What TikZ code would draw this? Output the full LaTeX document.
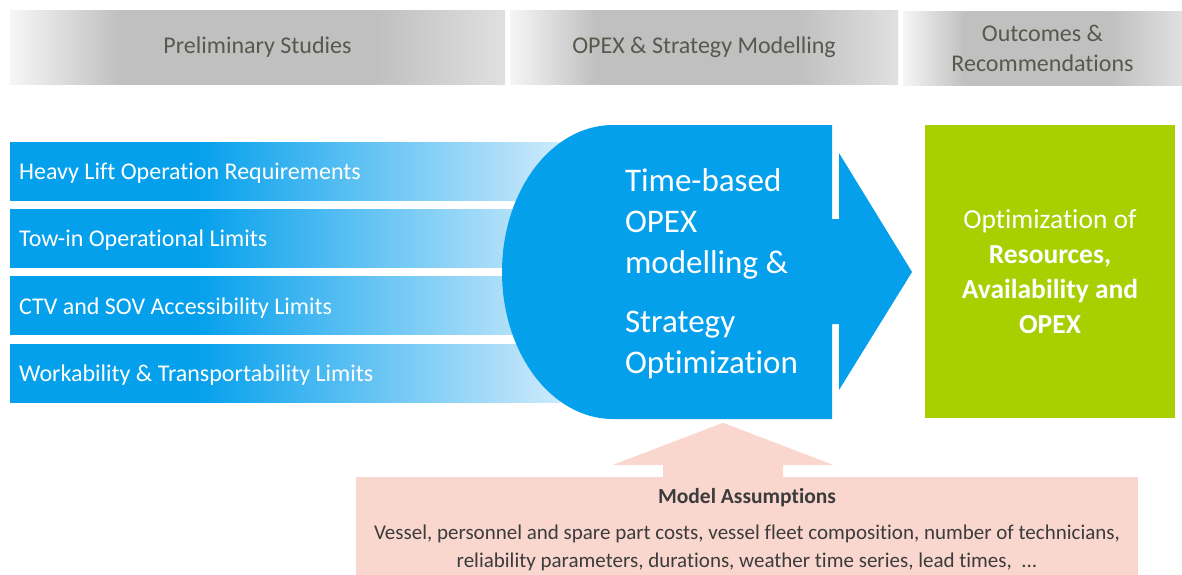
\documentclass[tikz,border=0pt]{standalone}
\usepackage{fontspec}
\setmainfont{Carlito}[Ligatures=NoCommon]
\usetikzlibrary{
  positioning
  , calc
}

\definecolor{opblue}{RGB}{5,160,236}
\definecolor{barlight}{RGB}{205,234,251}
\definecolor{optgreen}{RGB}{168,207,0}
\definecolor{pinkfill}{RGB}{249,214,206}
\definecolor{hdgray}{RGB}{192,192,192}
\definecolor{hdlight}{RGB}{246,246,246}
\definecolor{hdend}{RGB}{224,224,224}
\definecolor{hdtext}{RGB}{88,88,78}
\definecolor{astext}{RGB}{60,60,60}

\pgfdeclarehorizontalshading{headfade}{100bp}{color(0bp)=(hdlight); color(25bp)=(hdlight);
  color(36bp)=(hdgray); color(62bp)=(hdgray); color(75bp)=(hdend); color(100bp)=(hdend)}
\pgfdeclarehorizontalshading{barfade}{100bp}{color(0bp)=(opblue); color(25bp)=(opblue);
  color(42bp)=(opblue); color(75bp)=(barlight); color(100bp)=(barlight)}

\begin{document}
\begin{tikzpicture}[x=1pt, y=-1pt,
    every node/.style={execute at begin node={\spaceskip=0pt\xspaceskip=0pt\relax}},
    headbar/.style={shading=headfade, text=hdtext,
      minimum height=74pt, inner sep=0pt, align=center,
      font=\fontsize{24}{30}\selectfont},
    limitbar/.style={shading=barfade, text=white, anchor=west,
      minimum height=58pt, text width=532pt, inner xsep=9pt,
      align=left, font=\fontsize{24}{28}\selectfont}]
  \useasboundingbox (0,0) rectangle (1182,574);

  % stage headers
  \node [headbar, minimum width=495pt] (prelim) at (257.5,47) {Preliminary Studies};
  \node [headbar, minimum width=388pt] (model) at (704,47) {OPEX \& Strategy Modelling};
  \node [headbar, minimum width=279pt] (outcome) at (1042.5,48) {Outcomes \&\\Recommendations};

  % inputs
  \foreach \lbl [count=\i] in {Heavy Lift Operation Requirements,
      Tow-in Operational Limits,
      CTV and SOV Accessibility Limits,
      Workability \& Transportability Limits}
    \node [limitbar, text depth=-2pt] (lim\i) at (10,{104+67.3*\i}) {\lbl};

  % core arrow
  \fill [opblue] (613,125) -- (832,125) -- (832,219) -- (839,219) -- (839,153)
    -- (912,272) -- (839,390) -- (839,324) -- (832,324) -- (832,419) -- (613,419)
    arc [start angle=90, end angle=270, x radius=111, y radius=147] -- cycle;
  \node [text=white, anchor=west, align=left,
    font=\fontsize{33}{41}\selectfont] (core) at (621.5,274)
    {Time-based\\OPEX\\modelling \&\\[18pt]Strategy\\Optimization};

  % outcome
  \node [fill=optgreen, text=white, minimum width=250pt, minimum height=293pt,
    align=center, font=\fontsize{27.5}{35}\selectfont] (result) at (1050,271.5)
    {Optimization of\\\textbf{Resources,}\\\textbf{Availability and}\\\textbf{OPEX}};

  % assumptions
  \node [fill=pinkfill, text=astext, minimum width=782pt, minimum height=105pt,
    align=center, font=\fontsize{21}{28}\selectfont] (assume) at (747,529.5)
    {{\bfseries\fontsize{21.5}{22}\selectfont Model Assumptions}\\[8pt]
     Vessel, personnel and spare part costs, vessel fleet composition, number of technicians,\\
     reliability parameters, durations, weather time series, lead times,\ \ ...};
  \fill [pinkfill] ([xshift=-84pt]assume.north) -- ++(0,-12) -- ++(-50,0)
    -- ++(110,-42) -- ++(110,42) -- ++(-50,0) -- ++(0,12) -- cycle;
\end{tikzpicture}
\end{document}
